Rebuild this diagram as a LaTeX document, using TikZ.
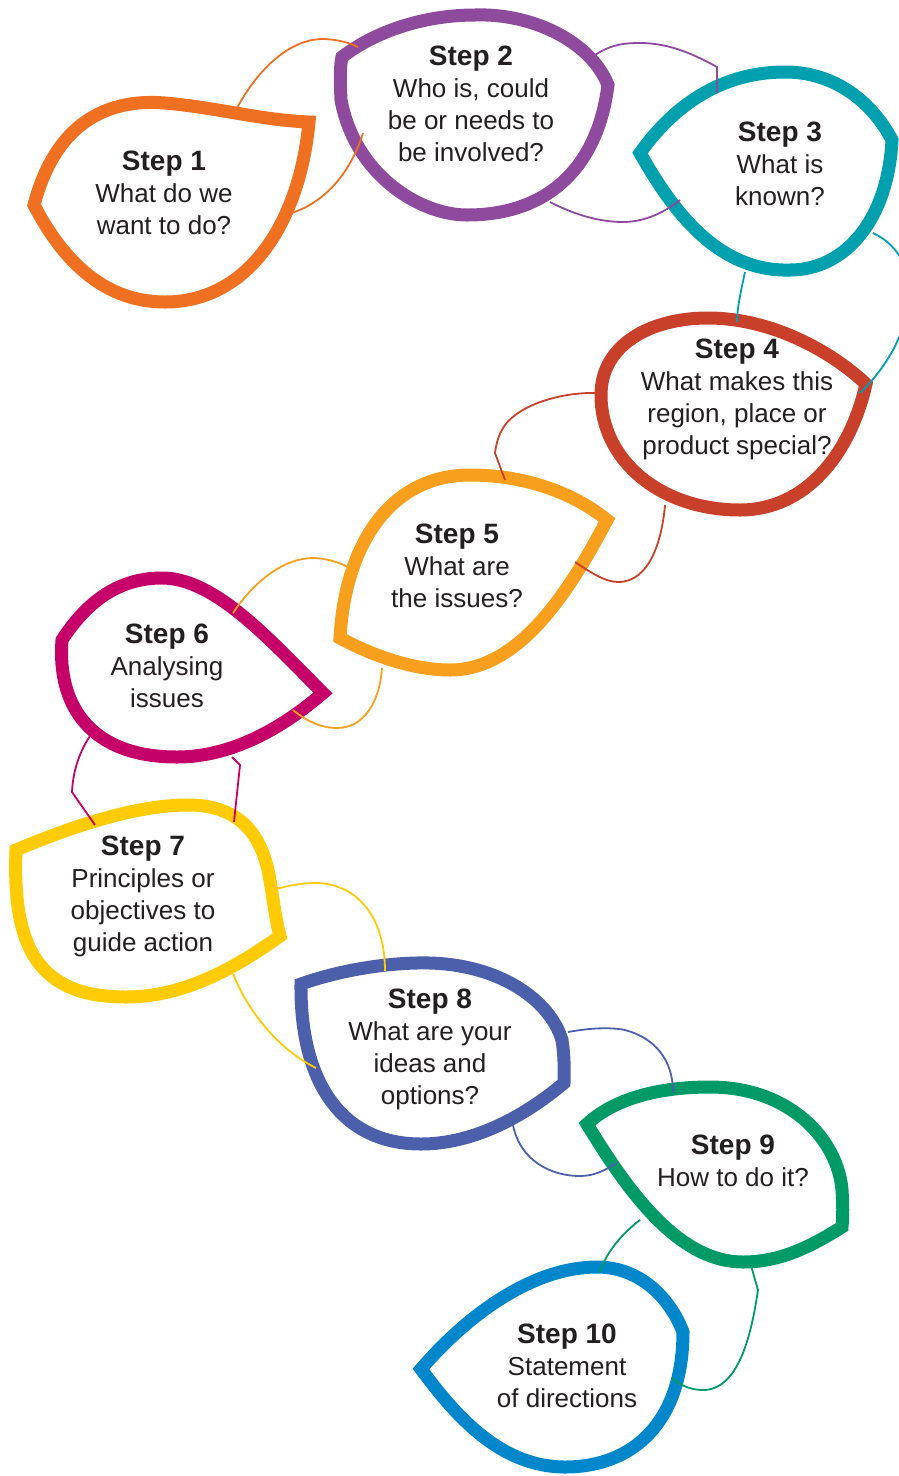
\documentclass[tikz,border=0pt]{standalone}
\usepackage{fontspec}
\setmainfont{Liberation Sans}
\definecolor{ink}{HTML}{231F20}
\definecolor{cOne}{HTML}{F07022}
\definecolor{cTwo}{HTML}{8E4A9C}
\definecolor{cThree}{HTML}{00A0AF}
\definecolor{cFour}{HTML}{C8402A}
\definecolor{cFive}{HTML}{F99F1E}
\definecolor{cSix}{HTML}{C50068}
\definecolor{cSeven}{HTML}{FFCB05}
\definecolor{cEight}{HTML}{4C5FAA}
\definecolor{cNine}{HTML}{009A66}
\definecolor{cTen}{HTML}{0087CB}
\newcommand{\stepname}[1]{{\fontsize{28}{32}\selectfont\bfseries Step #1}}
\tikzset{
  leaf/.style={line width=13pt,fill=white},
  link/.style={line width=1.8pt},
  steptext/.style={anchor=north,align=center,inner sep=0pt,text=ink,
    font=\fontsize{26}{32}\selectfont}
}
\begin{document}
\begin{tikzpicture}[x=1pt,y=-1pt]
  \useasboundingbox (0,0) rectangle (899,1476);
  \draw[leaf,draw=cOne] (34,205) .. controls (55,125) and (105,98) .. (165,103) .. controls (220,108) and (260,120) .. (309,122) .. controls (300,220) and (250,302) .. (165,302) .. controls (100,302) and (60,255) .. cycle;
  \draw[leaf,draw=cTwo] (342,57) .. controls (380,28) and (430,15) .. (475,15) .. controls (530,13) and (590,40) .. (608,85) .. controls (598,165) and (550,215) .. (467,215) .. controls (420,215) and (355,175) .. (341,100) .. controls (340,80) and (340,65) .. cycle;
  \draw[leaf,draw=cThree] (640,153) .. controls (680,97) and (730,72) .. (785,72) .. controls (835,72) and (872,102) .. (892,140) .. controls (888,220) and (845,270) .. (790,270) .. controls (720,272) and (675,215) .. cycle;
  \draw[leaf,draw=cFour] (866,384) .. controls (850,455) and (805,510) .. (740,510) .. controls (660,510) and (601,460) .. (601,395) .. controls (601,345) and (650,318) .. (708,318) .. controls (770,318) and (830,350) .. cycle;
  \draw[leaf,draw=cFive] (607,520) .. controls (570,490) and (520,475) .. (470,475) .. controls (390,475) and (345,545) .. (340,638) .. controls (375,657) and (415,670) .. (450,670) .. controls (520,670) and (570,590) .. cycle;
  \draw[leaf,draw=cSix] (62,640) .. controls (88,600) and (120,578) .. (162,578) .. controls (215,578) and (270,640) .. (323,693) .. controls (280,730) and (230,757) .. (177,757) .. controls (90,757) and (57,705) .. cycle;
  \draw[leaf,draw=cSeven] (16,850) .. controls (80,823) and (140,805) .. (188,805) .. controls (240,805) and (260,835) .. (268,870) .. controls (273,895) and (275,918) .. (280,936) .. controls (230,972) and (180,997) .. (126,997) .. controls (40,997) and (12,950) .. cycle;
  \draw[leaf,draw=cEight] (301,984) .. controls (340,970) and (390,962) .. (430,963) .. controls (500,965) and (550,1000) .. (562,1040) .. controls (565,1060) and (564,1075) .. (564,1083) .. controls (520,1120) and (470,1144) .. (421,1144) .. controls (340,1144) and (300,1080) .. cycle;
  \draw[leaf,draw=cNine] (587,1124) .. controls (615,1098) and (660,1087) .. (710,1087) .. controls (790,1087) and (838,1140) .. (842,1190) .. controls (843,1205) and (843,1215) .. (842,1227) .. controls (810,1247) and (780,1262) .. (743,1262) .. controls (680,1262) and (630,1195) .. cycle;
  \draw[leaf,draw=cTen] (421,1369) .. controls (470,1312) and (535,1267) .. (597,1267) .. controls (640,1267) and (670,1298) .. (683,1332) .. controls (683,1420) and (635,1467) .. (565,1467) .. controls (500,1467) and (455,1415) .. cycle;
  \node[steptext] (s1) at (164,151) {\stepname{1}\\What do we\\want to do?};
  \node[steptext] (s2) at (471,46) {\stepname{2}\\Who is, could\\be or needs to\\be involved?};
  \node[steptext] (s3) at (780,122) {\stepname{3}\\What is\\known?};
  \node[steptext] (s4) at (737,339) {\stepname{4}\\What makes this\\region, place or\\product special?};
  \node[steptext] (s5) at (457,524) {\stepname{5}\\What are\\the issues?};
  \node[steptext] (s6) at (167,624) {\stepname{6}\\Analysing\\issues};
  \node[steptext] (s7) at (143,836) {\stepname{7}\\Principles or\\objectives to\\guide action};
  \node[steptext] (s8) at (430,989) {\stepname{8}\\What are your\\ideas and\\options?};
  \node[steptext] (s9) at (733,1135) {\stepname{9}\\How to do it?};
  \node[steptext] (s10) at (567,1324) {\stepname{10}\\Statement\\of directions};
  \coordinate (a1) at (237,108);
  \coordinate (a2) at (358,47);
  \coordinate (b1) at (288,214);
  \coordinate (b2) at (363,133);
  \coordinate (a2r) at (595,55);
  \coordinate (a3) at (717,93);
  \coordinate (b2r) at (550,202);
  \coordinate (b3) at (680,200);
  \coordinate (a3b) at (745,272);
  \coordinate (a4) at (737,322);
  \coordinate (b3r) at (873,233);
  \coordinate (b4) at (860,393);
  \coordinate (a4l) at (597,393);
  \coordinate (a5) at (505,480);
  \coordinate (b4b) at (665,505);
  \coordinate (b5) at (575,562);
  \coordinate (a5l) at (348,567);
  \coordinate (a6) at (233,613);
  \coordinate (b5b) at (382,668);
  \coordinate (b6) at (293,710);
  \coordinate (a6b) at (92,733);
  \coordinate (a7) at (95,825);
  \coordinate (b6b) at (232,757);
  \coordinate (b7) at (234,822);
  \coordinate (a7r) at (276,889);
  \coordinate (a8) at (385,971);
  \coordinate (b7b) at (233,974);
  \coordinate (b8) at (316,1068);
  \coordinate (a8r) at (568,1032);
  \coordinate (a9) at (673,1092);
  \coordinate (b8b) at (513,1125);
  \coordinate (b9) at (617,1163);
  \coordinate (a9l) at (640,1220);
  \coordinate (a10) at (600,1272);
  \coordinate (b9b) at (750,1262);
  \coordinate (b10) at (672,1378);
  \draw[link,cOne] (a1) .. controls (262,62) and (295,38) .. (325,39) .. controls (340,40) and (350,43) .. (a2);
  \draw[link,cOne] (b2) .. controls (350,175) and (322,205) .. (b1);
  \draw[link,cTwo] (a2r) .. controls (612,44) and (625,43) .. (640,43) .. controls (670,43) and (695,55) .. (717,67) -- (a3);
  \draw[link,cTwo] (b2r) .. controls (575,215) and (600,222) .. (623,222) .. controls (645,222) and (665,212) .. (b3);
  \draw[link,cThree] (a3b) .. controls (740,295) and (737,310) .. (a4);
  \draw[link,cThree] (b3r) .. controls (930,260) and (915,340) .. (b4);
  \draw[link,cFour] (a4l) .. controls (560,392) and (520,405) .. (505,425) .. controls (498,435) and (496,445) .. (495,453) -- (a5);
  \draw[link,cFour] (b4b) .. controls (662,540) and (650,582) .. (618,582) .. controls (605,582) and (590,572) .. (b5);
  \draw[link,cFive] (a6) .. controls (255,580) and (285,558) .. (313,558) .. controls (325,558) and (338,562) .. (a5l);
  \draw[link,cFive] (b5b) .. controls (380,700) and (365,728) .. (337,728) .. controls (320,728) and (305,720) .. (b6);
  \draw[link,cSix] (a6b) .. controls (80,750) and (73,770) .. (72,792) -- (a7);
  \draw[link,cSix] (b6b) -- (240,765) -- (b7);
  \draw[link,cSeven] (a7r) .. controls (295,884) and (305,883) .. (318,883) .. controls (360,885) and (385,920) .. (a8);
  \draw[link,cSeven] (b7b) .. controls (250,1015) and (280,1050) .. (b8);
  \draw[link,cEight] (a8r) .. controls (590,1028) and (610,1027) .. (625,1030) .. controls (655,1038) and (673,1060) .. (a9);
  \draw[link,cEight] (b8b) .. controls (520,1160) and (550,1176) .. (580,1176) .. controls (595,1176) and (605,1170) .. (b9);
  \draw[link,cNine] (a9l) .. controls (620,1235) and (605,1255) .. (a10);
  \draw[link,cNine] (b9b) -- (758,1290) .. controls (752,1330) and (740,1390) .. (703,1390) .. controls (690,1390) and (680,1385) .. (b10);
\end{tikzpicture}
\end{document}
